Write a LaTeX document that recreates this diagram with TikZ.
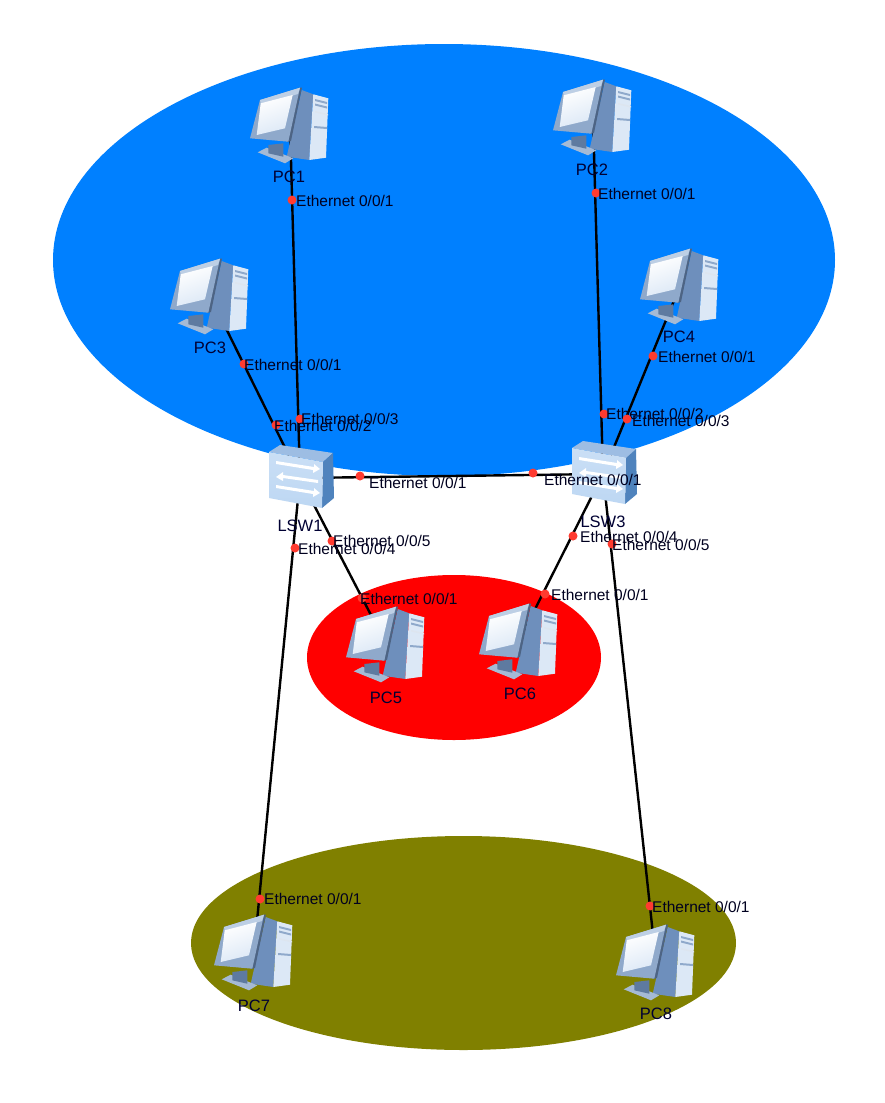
\documentclass[tikz,border=0pt]{standalone}
\usepackage{fontspec}
\setmainfont{Liberation Sans}
\definecolor{skyblue}{HTML}{0080FF}
\definecolor{olivefill}{HTML}{808000}
\definecolor{portred}{HTML}{FF3B30}
\definecolor{pcedge}{HTML}{8FA9CB}
\definecolor{pcdark}{HTML}{6E8FBC}
\definecolor{pclight}{HTML}{DCE8F6}
\definecolor{swfront}{HTML}{BDD7F3}
\definecolor{swtop}{HTML}{9DBDE3}
\definecolor{swside}{HTML}{4F83BD}
\tikzset{
  zone/.style={draw=none},
  anchorbox/.style={inner sep=0pt,minimum size=1pt},
  link/.style={draw=black,line width=2.4pt},
  port/.style={circle,fill=portred,inner sep=0pt,minimum size=9pt},
  portlabel/.style={anchor=west,inner sep=0pt,font=\fontsize{15.5}{16}\selectfont,text=black!88!blue},
  devlabel/.style={inner sep=0pt,font=\fontsize{16.5}{17}\selectfont,text=black!80!blue},
  pcicon/.pic={
    % tower side
    \fill[pcdark] (11.7,-35) -- (23.3,-30.7) -- (19.3,35) -- (-3.3,31.7) -- cycle;
    % tower front
    \fill[pclight] (23.3,-30.7) -- (38.3,-26.7) -- (36,32.7) -- (19.3,35) -- cycle;
    \fill[pcedge] (25,-26) -- (37,-23) -- (37,-21) -- (25,-24) -- cycle;
    \fill[pcedge] (25,-21.5) -- (37,-18.5) -- (37,-16.5) -- (25,-19.5) -- cycle;
    \fill[white!70!pcedge] (25,-14) -- (38,-11) -- (38,-9.5) -- (25,-12.5) -- cycle;
    \fill[pcedge] (24,1) -- (37,2) -- (37,4) -- (24,3) -- cycle;
    % base and neck
    \fill[pcedge!80!white] (-32.3,27.3) -- (-23.3,22.7) -- (3.3,33.3) -- (-5,38.3) -- cycle;
    \fill[pcdark!85!black] (-21.7,20) -- (-6.7,18.3) -- (-6.7,31.7) -- (-21.7,28.3) -- cycle;
    % monitor
    \fill[pcdark!70!black] (8,-37) -- (12,-37.5) -- (1,16) -- (-3,17) -- cycle;
    \fill[pcedge] (-30,-25) -- (10,-37.3) -- (-1.7,16.7) -- (-40,13.3) -- cycle;
    \fill[pclight!60!pcedge] (-30,-25) -- (10,-37.3) -- (8,-31) -- (-29,-20) -- cycle;
    \shade[top color=white,bottom color=pclight,shading angle=20] (-29.3,-21.7) -- (2.7,-30) -- (-5,3.3) -- (-33.3,10) -- cycle;
  },
  swicon/.pic={
    \fill[swtop] (-31,-26) -- (-20,-33) -- (33,-25) -- (23,-16) -- cycle;
    \fill[swside] (23,-16) -- (33,-25) -- (34,20) -- (22,30) -- cycle;
    \shade[top color=swfront!80!white,bottom color=swfront] (-31,-26) -- (23,-16) -- (22,30) -- (-31,20) -- cycle;
    \fill[white] (-24,-17) -- (14,-11) -- (14,-14) -- (20,-9) -- (13,-5) -- (13,-8) -- (-24,-14) -- cycle;
    \fill[white] (-24,-1) -- (-17,-6) -- (-17,-3) -- (18,2) -- (18,5) -- (-17,0) -- (-17,3) -- cycle;
    \fill[white] (-24,7) -- (14,13) -- (14,10) -- (20,15) -- (13,19) -- (13,16) -- (-24,10) -- cycle;
  }
}
\newcommand{\portat}[5]{%
  \node[port] (#1) at (#2,#3) {};
  \node[portlabel] (#1t) at (#4,#5) {Ethernet 0/0/1};}
\newcommand{\portatx}[6]{%
  \node[port] (#1) at (#2,#3) {};
  \node[portlabel] (#1t) at (#4,#5) {Ethernet 0/0/#6};}
\begin{document}
\begin{tikzpicture}[x=1pt,y=-1pt]
\useasboundingbox (0,0) rectangle (885,1103);
% zones
\fill[white] (0,0) rectangle (885,1103);
\fill[skyblue] (444,260) ellipse [x radius=391,y radius=216];
\fill[red] (454,657.5) ellipse [x radius=147,y radius=82.5];
\fill[olivefill] (463.5,943) ellipse [x radius=272.5,y radius=107];
% device anchors
\node[anchorbox] (pc1) at (290,125) {};
\node[anchorbox] (pc2) at (593,117) {};
\node[anchorbox] (pc3) at (210,296) {};
\node[anchorbox] (pc4) at (680,286) {};
\node[anchorbox] (pc5) at (386,644) {};
\node[anchorbox] (pc6) at (519,641) {};
\node[anchorbox] (pc7) at (254,952) {};
\node[anchorbox] (pc8) at (656,962) {};
\node[anchorbox] (lsw1) at (300,478) {};
\node[anchorbox] (lsw3) at (603,474) {};
% connectors
\draw[link] (pc1.center) -- (lsw1.center);
\draw[link] (pc3.center) -- (lsw1.center);
\draw[link] (pc2.center) -- (lsw3.center);
\draw[link] (pc4.center) -- (lsw3.center);
\draw[link] (lsw1.center) -- (lsw3.center);
\draw[link] (lsw1.center) -- (pc5.center);
\draw[link] (lsw1.center) -- (pc7.center);
\draw[link] (lsw3.center) -- (pc6.center);
\draw[link] (lsw3.center) -- (pc8.center);
% icons
\foreach \n in {pc1,pc2,pc3,pc4,pc5,pc6,pc7,pc8} {\pic at (\n.center) {pcicon};}
\pic at (lsw1.center) {swicon};
\pic at (lsw3.center) {swicon};
% device labels
\node[devlabel] (pc1t) at (289,177) {PC1};
\node[devlabel] (pc2t) at (592,170) {PC2};
\node[devlabel] (pc3t) at (210,348) {PC3};
\node[devlabel] (pc4t) at (679,337) {PC4};
\node[devlabel] (pc5t) at (386,698) {PC5};
\node[devlabel] (pc6t) at (520,694) {PC6};
\node[devlabel] (pc7t) at (254,1006) {PC7};
\node[devlabel] (pc8t) at (656,1014) {PC8};
\node[devlabel] (lsw1t) at (300,526) {LSW1};
\node[devlabel] (lsw3t) at (603,522) {LSW3};
% ports
\portat{p1}{292}{200}{296}{201}
\portat{p2}{596}{193}{598}{194}
\portat{p3}{244}{364}{244}{365}
\portat{p4}{653}{356}{658}{357}
\portatx{s1c}{300}{419}{301}{419}{3}
\portatx{s1b}{276}{425}{274}{426}{2}
\portat{s1a}{360}{476}{369}{483}
\portatx{s1e}{332}{541}{333}{541}{5}
\portatx{s1d}{295}{548}{298}{549}{4}
\portat{p5}{362}{598}{360}{599}
\portatx{s3b}{604}{414}{606}{414}{2}
\portatx{s3c}{627}{419}{632}{421}{3}
\portat{s3a}{533}{473}{544}{480}
\portatx{s3d}{573}{536}{580}{537}{4}
\portatx{s3e}{612}{544}{612}{545}{5}
\portat{p6}{545}{594}{551}{595}
\portat{p7}{260}{899}{264}{899}
\portat{p8}{650}{906}{652}{907}
\end{tikzpicture}
\end{document}
